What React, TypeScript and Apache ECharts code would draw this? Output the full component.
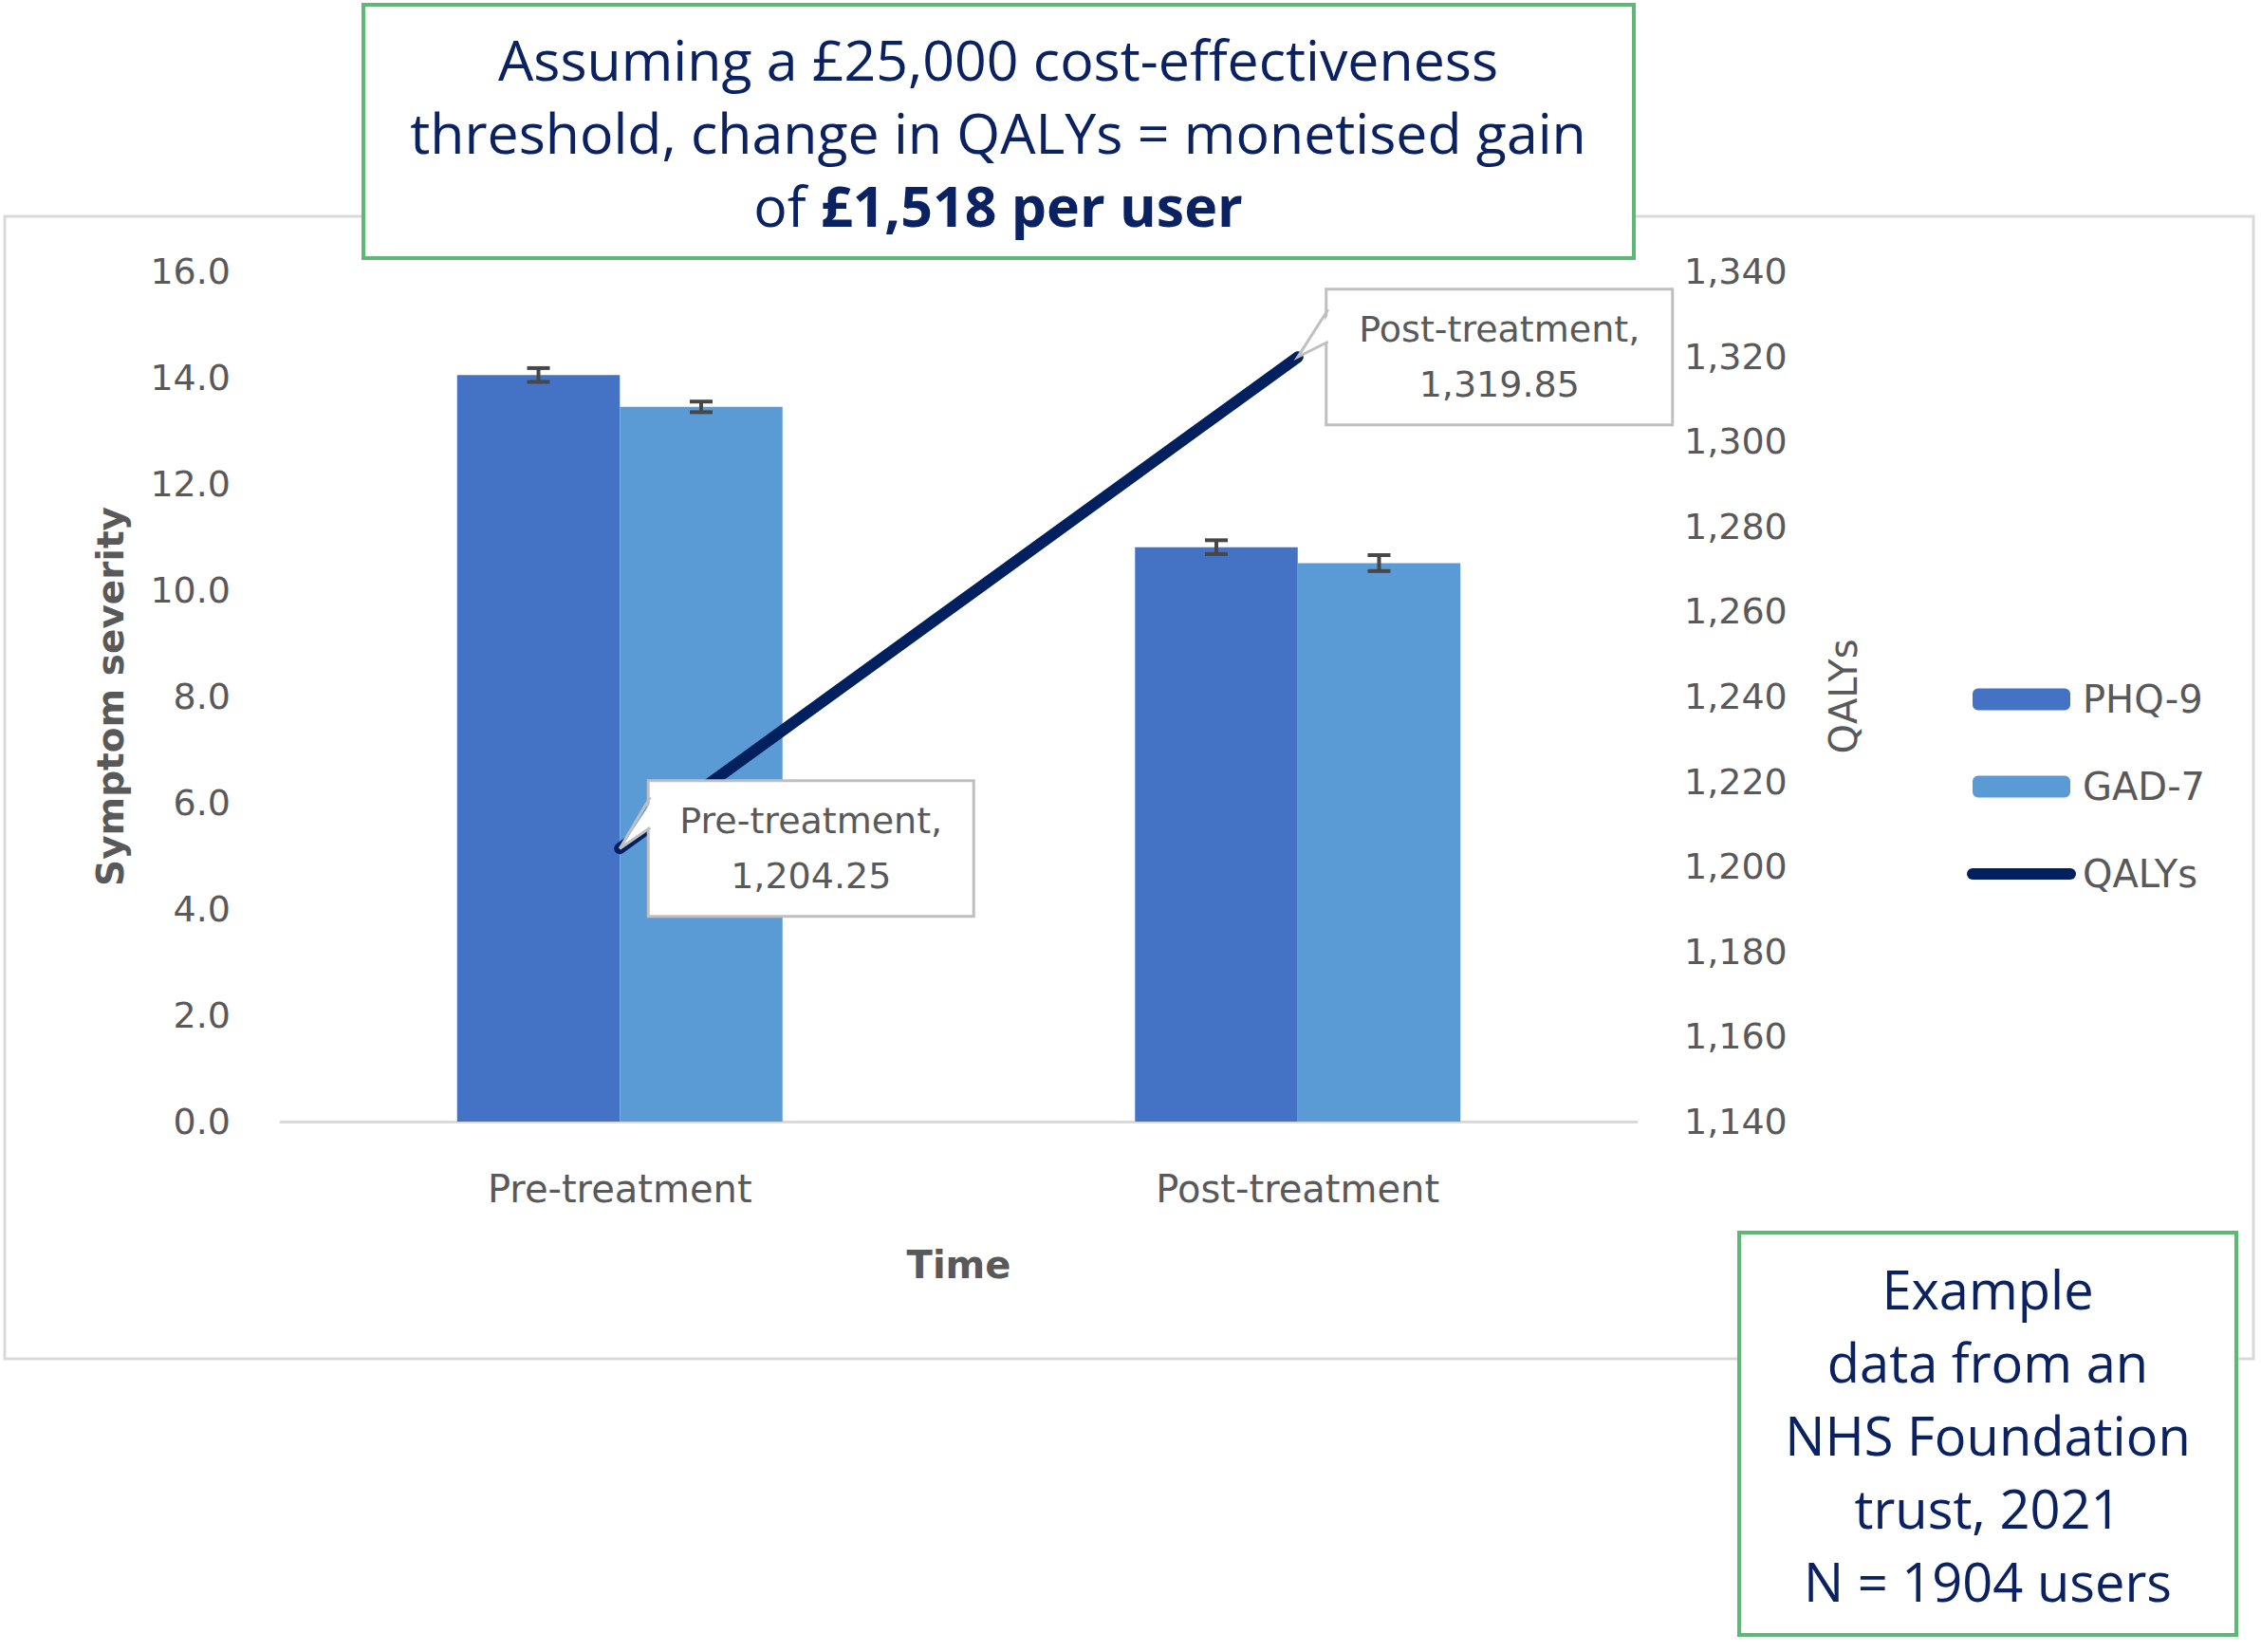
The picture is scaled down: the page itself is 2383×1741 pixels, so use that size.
import React, { useEffect, useRef } from "react";
import * as echarts from "echarts";

const categories = ["Pre-treatment", "Post-treatment"];
const phq9 = [14.05, 10.81];
const phq9Err = [0.13, 0.13];
const gad7 = [13.45, 10.51];
const gad7Err = [0.1, 0.15];
const qalys = [1204.25, 1319.85];
const leftTicks = { min: 0, max: 16, interval: 2 };
const rightTicks = { min: 1140, max: 1340, interval: 20 };
const topNote = [
  "Assuming a £25,000 cost-effectiveness",
  "threshold, change in QALYs = monetised gain",
  "of {b|£1,518 per user}",
];
const sideNote = ["Example", "data from an", "NHS Foundation", "trust, 2021", "N = 1904 users"];

const GREY = "#595959";
const NAVY = "#0a2162";
const GREEN = "#5cb874";
const LINE = "#002060";
const FONT = "DejaVu Sans";
const BOXFONT = "Open Sans";

export default function App() {
  const ref = useRef<HTMLDivElement>(null);
  useEffect(() => {
    document.body.style.margin = "0";
    document.body.style.overflow = "hidden";
    const chart = echarts.init(ref.current!, null, { renderer: "svg" });
    const errData: any[] = [];
    phq9.forEach((v, i) => errData.push([i, v, phq9Err[i], -1]));
    gad7.forEach((v, i) => errData.push([i, v, gad7Err[i], 1]));
    const pointerData = qalys.map((v, i) => [i, v]);

    const option: any = {
      animation: false,
      backgroundColor: "#ffffff",
      grid: { left: 296, right: 658, top: 286, bottom: 559, containLabel: false },
      legend: {
        orient: "vertical",
        left: 2068,
        top: 712,
        itemWidth: 103,
        itemHeight: 23,
        itemGap: 52,
        data: [
          "PHQ-9",
          "GAD-7",
          { name: "QALYs", itemStyle: { opacity: 0 }, lineStyle: { width: 12, cap: "round", color: LINE } },
        ],
        textStyle: { fontFamily: FONT, fontSize: 40, color: GREY, padding: [0, 0, 0, 8] },
      },
      xAxis: {
        type: "category",
        data: categories,
        axisLine: { lineStyle: { color: "#d9d9d9", width: 3 } },
        axisTick: { show: false },
        axisLabel: { fontFamily: FONT, fontSize: 40, color: GREY, margin: 51 },
        name: "Time",
        nameLocation: "middle",
        nameGap: 131,
        nameTextStyle: { fontFamily: FONT, fontSize: 40, fontWeight: "bold", color: GREY },
      },
      yAxis: [
        {
          type: "value",
          ...leftTicks,
          axisLine: { show: false },
          axisTick: { show: false },
          splitLine: { show: false },
          axisLabel: {
            fontFamily: FONT,
            fontSize: 38,
            color: GREY,
            margin: 53,
            formatter: (v: number) => v.toFixed(1),
          },
          name: "Symptom severity",
          nameLocation: "middle",
          nameRotate: 90,
          nameGap: 160,
          nameTextStyle: { fontFamily: FONT, fontSize: 39, fontWeight: "bold", color: GREY },
        },
        {
          type: "value",
          position: "right",
          ...rightTicks,
          axisLine: { show: false },
          axisTick: { show: false },
          splitLine: { show: false },
          axisLabel: {
            fontFamily: FONT,
            fontSize: 38,
            color: GREY,
            margin: 50,
            formatter: (v: number) => v.toLocaleString("en-US"),
          },
          name: "QALYs",
          nameLocation: "middle",
          nameRotate: 90,
          nameGap: 198,
          nameTextStyle: { fontFamily: FONT, fontSize: 40, color: GREY },
        },
      ],
      series: [
        {
          name: "PHQ-9",
          type: "bar",
          data: phq9,
          barWidth: "24%",
          barGap: "0%",
          itemStyle: { color: "#4472c4" },
          z: 2,
        },
        {
          name: "GAD-7",
          type: "bar",
          data: gad7,
          barWidth: "24%",
          barGap: "0%",
          itemStyle: { color: "#5b9bd5" },
          z: 2,
        },
        {
          name: "errors",
          type: "custom",
          data: errData,
          z: 3,
          renderItem: (params: any, api: any) => {
            const ci = api.value(0);
            const v = api.value(1);
            const e = api.value(2);
            const side = api.value(3);
            const band = api.size([1, 0])[0];
            const bw = band * 0.24;
            const c = api.coord([ci, v]);
            const x = c[0] + (side * bw) / 2;
            const hi = api.coord([ci, v + e])[1];
            const lo = api.coord([ci, v - e])[1];
            const hw = 12;
            const st = { stroke: "#474747", lineWidth: 4 };
            return {
              type: "group",
              children: [
                { type: "line", shape: { x1: x, y1: hi, x2: x, y2: lo }, style: st },
                { type: "line", shape: { x1: x - hw, y1: hi, x2: x + hw, y2: hi }, style: st },
                { type: "line", shape: { x1: x - hw, y1: lo, x2: x + hw, y2: lo }, style: st },
              ],
            };
          },
        },
        {
          name: "QALYs",
          type: "line",
          yAxisIndex: 1,
          data: qalys,
          symbol: "none",
          lineStyle: { color: LINE, width: 12, cap: "round" },
          itemStyle: { color: LINE },
          z: 4,
        },
        {
          name: "QALY labels",
          type: "scatter",
          yAxisIndex: 1,
          data: qalys,
          symbol: "circle",
          symbolSize: 11,
          itemStyle: { color: LINE, opacity: 1 },
          z: 5,
          label: {
            show: true,
            position: "right",
            distance: 26,
            formatter: (p: any) => {
              const k = p.dataIndex === 0 ? "a" : "c";
              return (
                "{" + k + "|" + categories[p.dataIndex] + ",}\n{" + k + "|" +
                Number(p.value).toLocaleString("en-US", { minimumFractionDigits: 2, maximumFractionDigits: 2 }) +
                "}"
              );
            },
            opacity: 1,
            backgroundColor: "#ffffff",
            borderColor: "#bfbfbf",
            borderWidth: 3,
            padding: [12, 18, 12, 18],
            rich: {
              a: { fontFamily: FONT, fontSize: 38, lineHeight: 58, color: GREY, width: 304, align: "center" },
              c: { fontFamily: FONT, fontSize: 38, lineHeight: 58, color: GREY, width: 326, align: "center" },
            },
          },
        },
        {
          name: "pointers",
          type: "custom",
          yAxisIndex: 1,
          data: pointerData,
          z: 6,
          renderItem: (params: any, api: any) => {
            const c = api.coord([api.value(0), api.value(1)]);
            const px = c[0];
            const py = c[1];
            const bx = px + 32;
            const y1 = params.dataIndex === 0 ? py - 54 : py - 50;
            const y2 = params.dataIndex === 0 ? py - 22 : py - 16;
            return {
              type: "group",
              children: [
                {
                  type: "polygon",
                  shape: { points: [[bx + 3, y1 + 2], [px + 2, py - 2], [bx + 3, y2 - 2]] },
                  style: { fill: "#ffffff" },
                },
                {
                  type: "polyline",
                  shape: { points: [[bx, y1], [px, py], [bx, y2]] },
                  style: { stroke: "#bfbfbf", lineWidth: 3, fill: null },
                },
              ],
            };
          },
        },
      ],
      graphic: [
        {
          type: "rect",
          shape: { x: 5, y: 228, width: 2370, height: 1204 },
          style: { fill: "none", stroke: "#d9d9d9", lineWidth: 3 },
          z: -10,
          silent: true,
        },
        {
          type: "rect",
          shape: { x: 383, y: 5, width: 1339, height: 267 },
          style: { fill: "#ffffff", stroke: GREEN, lineWidth: 4 },
          z: 100,
        },
        {
          type: "text",
          x: 1052,
          y: 139,
          z: 101,
          style: {
            text: topNote.join("\n"),
            fontFamily: BOXFONT,
            fontSize: 59,
            lineHeight: 77,
            fill: NAVY,
            align: "center",
            verticalAlign: "middle",
            rich: {
              b: { fontFamily: BOXFONT, fontSize: 59, lineHeight: 77, fontWeight: "bold", fill: NAVY, color: NAVY },
            },
          },
        },
        {
          type: "rect",
          shape: { x: 1833, y: 1299, width: 524, height: 424 },
          style: { fill: "#ffffff", stroke: GREEN, lineWidth: 4 },
          z: 100,
        },
        {
          type: "text",
          x: 2095,
          y: 1512,
          z: 101,
          style: {
            text: sideNote.join("\n"),
            fontFamily: BOXFONT,
            fontSize: 56,
            lineHeight: 77,
            fill: NAVY,
            align: "center",
            verticalAlign: "middle",
          },
        },
      ],
    };
    chart.setOption(option);
    return () => chart.dispose();
  }, []);
  return <div ref={ref} style={{ width: 2383, height: 1741 }} />;
}
